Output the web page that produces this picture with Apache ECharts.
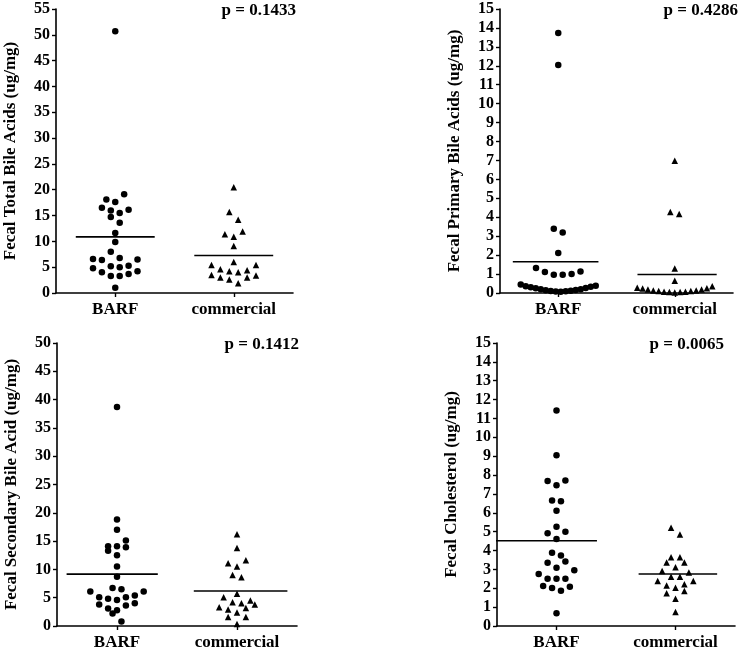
<!DOCTYPE html>
<html>
<head>
<meta charset="utf-8">
<script src="https://cdn.jsdelivr.net/npm/echarts@6/dist/echarts.min.js"></script>
<style>
html,body{margin:0;padding:0;background:#ffffff;}
#chart{width:741px;height:651px;}
</style>
</head>
<body>
<div id="chart"></div>
<script>
// ---------------- DATA ----------------
const categories = ['BARF', 'commercial'];

// Panel 1: Fecal Total Bile Acids (ug/mg)
const totalBARF = [50.7, 19.1, 18.1, 17.6, 16.1, 16.5, 16.0, 15.5, 14.7, 13.6, 11.6, 9.9, 8.0, 6.5, 6.8, 6.4, 6.6, 5.3, 4.8, 5.0, 5.2, 4.0, 4.2, 3.7, 3.3, 3.3, 1.0];
const totalCommercial = [20.5, 15.7, 14.2, 11.9, 11.4, 10.9, 9.1, 6.0, 5.4, 5.4, 4.6, 4.2, 4.4, 4.0, 3.4, 3.5, 3.0, 3.0, 2.6, 1.9];

// Panel 2: Fecal Primary Bile Acids (ug/mg)
const primaryBARF = [13.73, 12.04, 3.40, 3.20, 2.11, 1.32, 1.14, 1.11, 1.00, 0.97, 0.97, 0.45, 0.38, 0.35, 0.33, 0.30, 0.26, 0.25, 0.20, 0.20, 0.16, 0.15, 0.12, 0.11, 0.09, 0.08, 0.07];
const primaryCommercial = [6.99, 4.28, 4.17, 1.29, 0.65, 0.35, 0.28, 0.25, 0.24, 0.18, 0.18, 0.13, 0.13, 0.10, 0.10, 0.07, 0.07, 0.05, 0.05, 0.03];

// Panel 3: Fecal Secondary Bile Acid (ug/mg)
const secondaryBARF = [38.7, 18.8, 17.0, 15.1, 14.1, 14.1, 13.9, 13.3, 12.5, 10.5, 8.7, 6.7, 6.5, 6.1, 6.1, 5.4, 5.1, 5.1, 4.8, 4.6, 4.0, 3.8, 3.6, 3.1, 2.8, 2.2, 0.8];
const secondaryCommercial = [16.2, 13.8, 11.6, 11.1, 10.5, 9.0, 8.6, 5.7, 5.1, 4.5, 4.2, 4.0, 3.8, 3.3, 3.2, 2.9, 2.4, 1.6, 1.6, 0.35];

// Panel 4: Fecal Cholesterol (ug/mg)
const cholBARF = [11.42, 9.05, 7.71, 7.69, 7.46, 6.65, 6.61, 6.11, 5.26, 4.99, 4.92, 4.61, 3.88, 3.74, 3.42, 3.35, 3.09, 2.95, 2.75, 2.51, 2.51, 2.51, 2.12, 2.08, 2.01, 1.87, 0.67];
const cholCommercial = [5.21, 4.85, 3.65, 3.65, 3.36, 3.36, 3.12, 2.91, 2.83, 2.61, 2.61, 2.38, 2.38, 2.21, 2.15, 2.03, 1.85, 1.73, 1.45, 0.74];

// Axis titles, p-values, y-axis tick ranges
const yTitles = ['Fecal Total Bile Acids (ug/mg)', 'Fecal Primary Bile Acids (ug/mg)', 'Fecal Secondary Bile Acid (ug/mg)', 'Fecal Cholesterol (ug/mg)'];
const pValues = ['p = 0.1433', 'p = 0.4286', 'p = 0.1412', 'p = 0.0065'];
const yMaxes = [55, 15, 50, 15];
const yIntervals = [5, 1, 5, 1];

// ---------------- LAYOUT / STYLE ----------------
const FONT = '"Liberation Serif", "Times New Roman", serif';
const grids = [
  {left: 56, top: 9, width: 237, height: 284},
  {left: 500, top: 9, width: 233, height: 284},
  {left: 57, top: 343, width: 240, height: 283},
  {left: 497, top: 343, width: 238, height: 283}
];
const pTextPos = [[296, 11], [738, 11], [299, 345], [724, 345]];
// mean-line extents relative to category centre (x-axis units)
const meanExtents = [
  [[-0.333, 0.333], [-0.333, 0.333]],
  [[-0.39, 0.345], [-0.32, 0.36]],
  [[-0.42, 0.34], [-0.36, 0.42]],
  [[-0.51, 0.34], [-0.31, 0.35]]
];
const BIN_PX = 8.5, STEP_PX = 8.9, MAX_W = 75;

const panels = [
  [totalBARF, totalCommercial],
  [primaryBARF, primaryCommercial],
  [secondaryBARF, secondaryCommercial],
  [cholBARF, cholCommercial]
];

function mean(a) { return a.reduce((s, v) => s + v, 0) / a.length; }

// Simple row-based beeswarm (column scatter) layout
function swarm(values, centre, pxPerY, pxPerX) {
  const sorted = values.slice().sort((a, b) => a - b);
  const rows = [];
  let cur = null;
  sorted.forEach(v => {
    if (cur && (v - cur[0]) * pxPerY <= BIN_PX) cur.push(v);
    else { cur = [v]; rows.push(cur); }
  });
  const pts = [];
  rows.forEach(row => {
    const n = row.length;
    const sp = n > 1 ? Math.min(STEP_PX, MAX_W / (n - 1)) : 0;
    const offs = [];
    if (n % 2) {
      offs.push(0);
      for (let k = 1; offs.length < n; k++) { offs.push(-k * sp); if (offs.length < n) offs.push(k * sp); }
    } else {
      for (let k = 0; offs.length < n; k++) { offs.push((k + 0.5) * sp); offs.push(-(k + 0.5) * sp); }
    }
    row.forEach((v, i) => pts.push([centre + offs[i] / pxPerX, v]));
  });
  return pts;
}

const option = {
  backgroundColor: '#ffffff',
  animation: false,
  grid: grids.map(g => Object.assign({containLabel: false}, g)),
  xAxis: [],
  yAxis: [],
  series: [],
  graphic: []
};

panels.forEach((groups, p) => {
  const g = grids[p];
  option.xAxis.push({
    type: 'category', gridIndex: p, data: categories, boundaryGap: true,
    axisLine: {show: true, lineStyle: {color: '#000', width: 1.6}},
    axisTick: {show: true, alignWithLabel: true, length: 4, lineStyle: {color: '#000', width: 1.4}},
    axisLabel: {color: '#000', fontFamily: FONT, fontWeight: 'bold', fontSize: 17, margin: 8},
    splitLine: {show: false}
  });
  option.xAxis.push({type: 'value', gridIndex: p, min: 0.5, max: 2.5, show: false});
  option.yAxis.push({
    type: 'value', gridIndex: p, min: 0, max: yMaxes[p], interval: yIntervals[p],
    name: yTitles[p], nameLocation: 'middle', nameGap: 37, nameRotate: 90,
    nameTextStyle: {color: '#000', fontFamily: FONT, fontWeight: 'bold', fontSize: 17},
    axisLine: {show: true, lineStyle: {color: '#000', width: 1.6}},
    axisTick: {show: true, inside: false, length: 4, lineStyle: {color: '#000', width: 1.4}},
    axisLabel: {color: '#000', fontFamily: FONT, fontWeight: 'bold', fontSize: 16, margin: 6},
    splitLine: {show: false}
  });
  const pxPerY = g.height / yMaxes[p];
  const pxPerX = g.width / 2;
  groups.forEach((vals, c) => {
    const centre = c + 1;
    option.series.push({
      type: 'scatter', xAxisIndex: p * 2 + 1, yAxisIndex: p,
      symbol: c === 0 ? 'circle' : 'triangle', symbolSize: c === 0 ? 6.5 : 6.5,
      itemStyle: {color: '#000', opacity: 1}, silent: true,
      data: swarm(vals, centre, pxPerY, pxPerX)
    });
    const m = mean(vals);
    const ext = meanExtents[p][c];
    option.series.push({
      type: 'line', xAxisIndex: p * 2 + 1, yAxisIndex: p, symbol: 'none', silent: true,
      lineStyle: {color: '#000', width: 1.6},
      data: [[centre + ext[0], m], [centre + ext[1], m]]
    });
  });
  option.graphic.push({
    type: 'text', x: pTextPos[p][0], y: pTextPos[p][1],
    style: {text: pValues[p], font: 'bold 17px ' + FONT, fill: '#000', align: 'right', verticalAlign: 'middle'}
  });
});

const chart = echarts.init(document.getElementById('chart'), null, {renderer: 'canvas'});
chart.setOption(option);
</script>
</body>
</html>
